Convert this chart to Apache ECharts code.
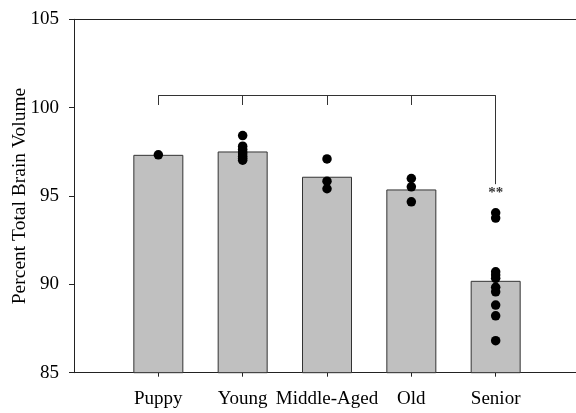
<!DOCTYPE html>
<html>
<head>
<meta charset="utf-8">
<script src="https://cdn.jsdelivr.net/npm/echarts@6/dist/echarts.min.js"></script>
<style>
  html, body { margin: 0; padding: 0; background: #fff; }
  #chart { width: 576px; height: 413px; }
</style>
</head>
<body>
<div id="chart"></div>
<script>
// Age groups (blank slots pad the axis at both ends)
const groups = ['Puppy', 'Young', 'Middle-Aged', 'Old', 'Senior'];
const axisSlots = [''].concat(groups, ['']);

// Group means (bar heights)
const groupMeans = [97.33, 97.52, 96.09, 95.37, 90.2];

// Individual dogs per group
const puppyDots = [97.33];
const youngDots = [98.42, 97.82, 97.65, 97.5, 97.38, 97.25, 97.13, 97.03];
const middleAgedDots = [97.1, 95.84, 95.41];
const oldDots = [95.99, 95.52, 94.67];
const seniorDots = [94.05, 93.75, 90.71, 90.53, 90.34, 89.83, 89.58, 88.83, 88.22, 86.81];

// Y-axis ticks
const yTicks = [85, 90, 95, 100, 105];

// Comparison bracket (Puppy..Senior) and significance mark
const bracketLevel = 100.7;
const bracketTickEnd = 100.15;
const seniorDropEnd = 95.67;
const significanceLevel = 95.18;
const significanceText = '**';

const dotsByGroup = [puppyDots, youngDots, middleAgedDots, oldDots, seniorDots];
const dotData = [];
dotsByGroup.forEach((vals, i) => vals.forEach(v => dotData.push([groups[i], v])));

const lineColor = '#222';
const serif = '"Liberation Serif", "DejaVu Serif", serif';

const bracketSegments = [
  [{ coord: [groups[0], bracketTickEnd] }, { coord: [groups[0], bracketLevel] }],
  [{ coord: [groups[0], bracketLevel] }, { coord: [groups[4], bracketLevel] }],
  [{ coord: [groups[1], bracketLevel] }, { coord: [groups[1], bracketTickEnd] }],
  [{ coord: [groups[2], bracketLevel] }, { coord: [groups[2], bracketTickEnd] }],
  [{ coord: [groups[3], bracketLevel] }, { coord: [groups[3], bracketTickEnd] }],
  [{ coord: [groups[4], bracketLevel] }, { coord: [groups[4], seniorDropEnd] }]
];

const chart = echarts.init(document.getElementById('chart'), null, { renderer: 'canvas' });
chart.setOption({
  animation: false,
  backgroundColor: '#fff',
  grid: {
    left: 74, top: 19.3, width: 506, bottom: 40.3,
    containLabel: false,
    outerBoundsMode: 'none'
  },
  xAxis: [
    {
      type: 'category',
      data: axisSlots,
      boundaryGap: false,
      axisLine: { show: true, lineStyle: { color: lineColor, width: 1 } },
      axisTick: {
        show: true,
        length: 4,
        lineStyle: { color: lineColor },
        interval: (idx, name) => name !== ''
      },
      axisLabel: {
        interval: 0,
        margin: 17,
        color: '#000',
        fontFamily: serif,
        fontSize: 19
      },
      splitLine: { show: false }
    },
    {
      type: 'category',
      data: axisSlots,
      boundaryGap: false,
      position: 'top',
      axisLine: { show: true, lineStyle: { color: lineColor, width: 1 } },
      axisTick: { show: false },
      axisLabel: { show: false },
      splitLine: { show: false }
    }
  ],
  yAxis: {
    type: 'value',
    min: yTicks[0],
    max: yTicks[yTicks.length - 1],
    interval: yTicks[1] - yTicks[0],
    name: 'Percent Total Brain Volume',
    nameLocation: 'middle',
    nameGap: 44,
    nameMoveOverlap: false,
    nameTextStyle: { color: '#000', fontFamily: serif, fontSize: 19.5 },
    axisLine: { show: true, lineStyle: { color: lineColor, width: 1 } },
    axisTick: { show: true, inside: false, length: 5, lineStyle: { color: lineColor } },
    axisLabel: { margin: 15, color: '#000', fontFamily: serif, fontSize: 19 },
    splitLine: { show: false }
  },
  series: [
    {
      type: 'bar',
      data: groups.map((g, i) => [g, groupMeans[i]]),
      barWidth: 50,
      itemStyle: { color: '#c0c0c0', borderColor: '#333', borderWidth: 1 },
      z: 2
    },
    {
      type: 'scatter',
      data: dotData,
      symbol: 'circle',
      symbolSize: 9.5,
      itemStyle: { color: '#000', opacity: 1 },
      z: 4
    },
    {
      type: 'line',
      data: [],
      silent: true,
      markLine: {
        silent: true,
        symbol: ['none', 'none'],
        label: { show: false },
        lineStyle: { color: '#333', width: 1, type: 'solid', opacity: 1 },
        data: bracketSegments
      },
      z: 3
    },
    {
      type: 'scatter',
      data: [[groups[4], significanceLevel]],
      symbolSize: 0,
      silent: true,
      label: {
        show: true,
        position: 'inside',
        formatter: significanceText,
        color: '#000',
        fontFamily: serif,
        fontWeight: 'bold',
        fontSize: 15
      },
      z: 5
    }
  ]
});
</script>
</body>
</html>
